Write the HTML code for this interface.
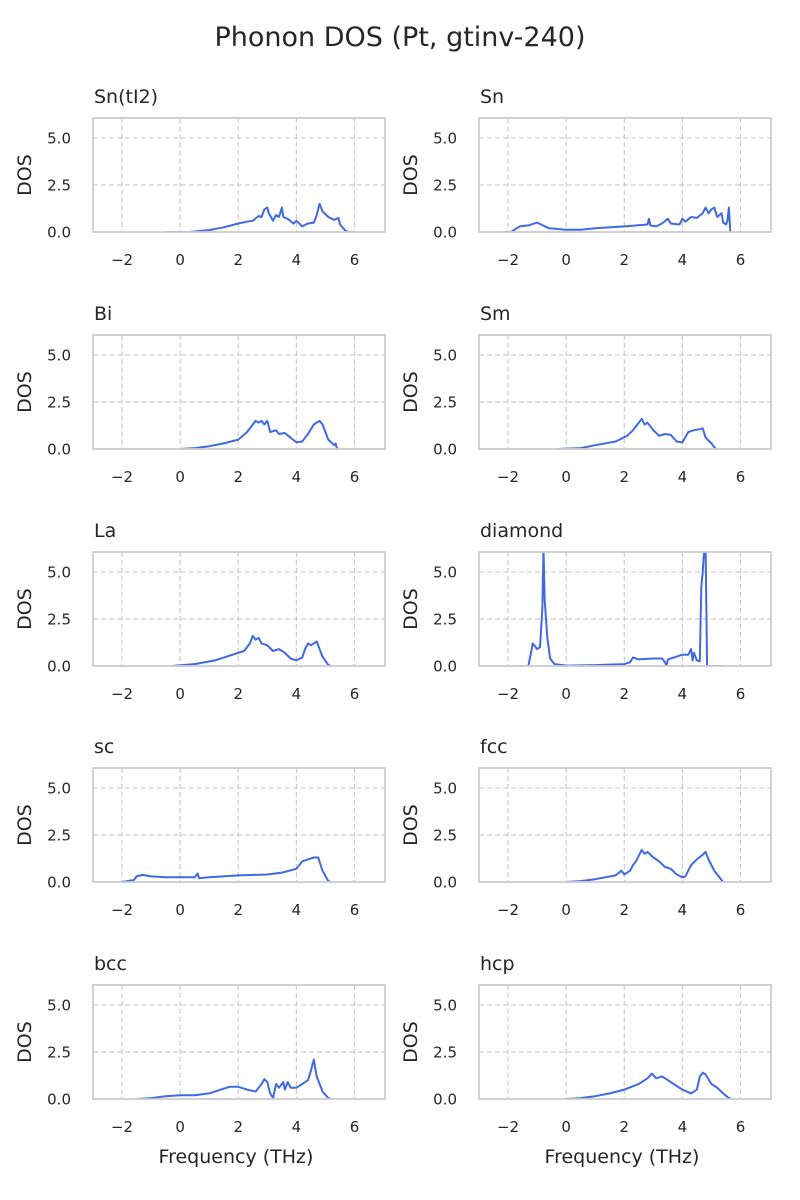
<!DOCTYPE html>
<html><head><meta charset="utf-8"><style>
body{margin:0;background:#fff;}
svg{display:block;font-family:"DejaVu Sans","Liberation Sans",sans-serif;}
</style></head><body>
<svg id="chart" width="800" height="1200">
<text x="400" y="46" text-anchor="middle" font-size="27" fill="#262626">Phonon DOS (Pt, gtinv-240)</text>
</svg>
<script>
const panelNames = ["Sn(tI2)","Sn","Bi","Sm","La","diamond","sc","fcc","bcc","hcp"];
const xTicks = [-2,0,2,4,6];
const xTickLabels = ["\u22122","0","2","4","6"];
const yTicks = [0,2.5,5];
const yTickLabels = ["0.0","2.5","5.0"];
const freqSnTI2 = [-0.5,0.3,1,1.5,2,2.3,2.5,2.7,2.8,2.9,3.0,3.05,3.2,3.3,3.4,3.5,3.55,3.7,3.9,4.0,4.2,4.4,4.6,4.7,4.8,4.9,5.1,5.3,5.45,5.5,5.7,5.8,6.0];
const dosSnTI2 = [0,0,0.1,0.25,0.45,0.55,0.6,0.85,0.8,1.2,1.3,1.0,0.6,0.9,0.8,1.3,0.8,0.7,0.45,0.6,0.3,0.45,0.5,0.9,1.5,1.1,0.8,0.65,0.75,0.4,0.05,0,0];
const freqSn = [-2.2,-1.9,-1.6,-1.3,-1.0,-0.8,-0.6,0,0.5,1,2,2.8,2.85,2.9,3.1,3.3,3.5,3.6,3.9,4.0,4.1,4.3,4.5,4.7,4.8,4.9,5.0,5.1,5.2,5.35,5.4,5.5,5.55,5.6,5.65];
const dosSn = [0,0,0.3,0.35,0.5,0.35,0.2,0.12,0.12,0.2,0.3,0.4,0.7,0.35,0.3,0.45,0.7,0.45,0.4,0.7,0.55,0.8,0.75,1.0,1.3,1.0,1.2,1.3,0.8,1.0,0.5,0.4,0.6,1.3,0];
const freqBi = [0,0.5,1,1.5,2,2.3,2.5,2.6,2.7,2.8,2.9,3.0,3.1,3.3,3.4,3.6,3.8,4.0,4.2,4.4,4.6,4.8,4.9,5.1,5.3,5.35,5.4];
const dosBi = [0,0.05,0.15,0.3,0.5,0.9,1.3,1.5,1.4,1.5,1.3,1.5,0.9,1.0,0.8,0.85,0.6,0.35,0.4,0.8,1.3,1.5,1.3,0.5,0.2,0.3,0];
const freqSm = [-0.3,0.5,1,1.7,2.1,2.3,2.5,2.6,2.7,2.8,3.0,3.2,3.4,3.6,3.8,4.0,4.2,4.4,4.6,4.7,4.8,5.0,5.15];
const dosSm = [0,0.05,0.2,0.4,0.7,1.0,1.4,1.6,1.3,1.4,1.0,0.7,0.8,0.75,0.4,0.35,0.9,1.0,1.05,1.1,0.6,0.3,0];
const freqLa = [-0.3,0.5,1.2,1.8,2.2,2.4,2.5,2.6,2.7,2.8,3.0,3.2,3.4,3.6,3.8,4.0,4.2,4.3,4.4,4.5,4.6,4.7,4.8,4.9,5.1,5.2];
const dosLa = [0,0.1,0.3,0.6,0.8,1.2,1.6,1.4,1.5,1.2,1.1,0.8,0.9,0.7,0.4,0.3,0.45,0.9,1.2,1.1,1.2,1.3,0.9,0.5,0.05,0];
const freqDiamond = [-1.8,-1.3,-1.15,-1.0,-0.9,-0.82,-0.78,-0.74,-0.65,-0.55,-0.4,0,1,2,2.2,2.3,2.5,3,3.3,3.4,3.45,3.5,4.0,4.2,4.3,4.35,4.4,4.5,4.6,4.65,4.7,4.75,4.8,4.85,5.4];
const dosDiamond = [0,0,1.2,0.9,1.0,3,6.2,3.5,1.5,0.4,0.1,0.02,0.05,0.1,0.2,0.45,0.35,0.4,0.4,0.2,0,0.35,0.6,0.6,0.9,0.3,0.7,0.3,0.25,4.2,5.0,6.2,6.2,0,0];
const freqSc = [-2,-1.6,-1.5,-1.3,-1.0,-0.5,0,0.5,0.6,0.65,1,2,3,3.5,4,4.2,4.4,4.6,4.75,4.9,5.1,5.2];
const dosSc = [0,0.1,0.3,0.38,0.3,0.25,0.25,0.25,0.45,0.2,0.25,0.35,0.4,0.5,0.7,1.1,1.2,1.3,1.3,0.6,0.05,0];
const freqFcc = [0,0.5,1,1.7,1.9,2.0,2.2,2.3,2.4,2.5,2.6,2.7,2.8,3.0,3.2,3.4,3.6,3.8,4.0,4.1,4.3,4.5,4.7,4.8,4.9,5.1,5.3,5.4];
const dosFcc = [0,0.05,0.15,0.35,0.6,0.4,0.6,0.9,1.1,1.4,1.7,1.5,1.6,1.3,1.1,0.8,0.7,0.4,0.25,0.3,0.9,1.2,1.45,1.6,1.2,0.6,0.2,0];
const freqBcc = [-1.5,-1,-0.5,0,0.5,1,1.5,1.7,2,2.3,2.6,2.8,2.9,3.0,3.1,3.2,3.3,3.4,3.55,3.6,3.7,3.8,4.0,4.2,4.4,4.5,4.6,4.7,4.9,5.1,5.2];
const dosBcc = [0,0.05,0.15,0.2,0.2,0.3,0.55,0.65,0.65,0.5,0.4,0.8,1.05,0.9,0.3,0.05,0.8,0.6,0.9,0.5,0.9,0.6,0.6,0.8,1.0,1.5,2.1,1.2,0.4,0.05,0];
const freqHcp = [0,0.5,1,1.5,2,2.5,2.8,2.95,3.1,3.3,3.5,3.7,4.0,4.3,4.5,4.6,4.7,4.8,5.0,5.2,5.4,5.6,5.7];
const dosHcp = [0,0.05,0.15,0.3,0.5,0.8,1.1,1.35,1.1,1.2,1.0,0.8,0.5,0.3,0.5,1.2,1.4,1.3,0.8,0.6,0.3,0.05,0];
const seriesFreq = [freqSnTI2,freqSn,freqBi,freqSm,freqLa,freqDiamond,freqSc,freqFcc,freqBcc,freqHcp];
const seriesDos = [dosSnTI2,dosSn,dosBi,dosSm,dosLa,dosDiamond,dosSc,dosFcc,dosBcc,dosHcp];

const NS="http://www.w3.org/2000/svg";
const svg=document.getElementById('chart');
const W=292,H=114,XMIN=-3,XMAX=7.05,YMAX=6.06;
const lefts=[93,479], tops=[118,335,552,768,985];
function mk(tag,attrs,parent){const e=document.createElementNS(NS,tag);for(const k in attrs)e.setAttribute(k,attrs[k]);(parent||svg).appendChild(e);return e;}
panelNames.forEach((name,i)=>{
  const L=lefts[i%2],T=tops[Math.floor(i/2)];
  const sx=v=>L+(v-XMIN)/(XMAX-XMIN)*W;
  const sy=v=>T+H-Math.min(v,YMAX+0.5)/YMAX*H;
  const g=mk('g',{});
  
  
  const clipId='clip'+i;
  const cp=mk('clipPath',{id:clipId},g);mk('rect',{x:L,y:T,width:W,height:H},cp);
  xTicks.forEach((t,j)=>{
    const gl=mk('line',{x1:sx(t),x2:sx(t),y1:T,y2:T+H,stroke:'#cccccc','stroke-width':1.2,'stroke-dasharray':'5,3'},g);
    
    
    const tl=mk('text',{x:sx(t),y:T+H+33,'text-anchor':'middle','font-size':15,fill:'#262626'},g);
    
    
    tl.textContent=xTickLabels[j];
  });
  yTicks.forEach((t,j)=>{
    if(t>0){const gl=mk('line',{x1:L,x2:L+W,y1:sy(t),y2:sy(t),stroke:'#cccccc','stroke-width':1.2,'stroke-dasharray':'5,3'},g);
    
    }
    const tl=mk('text',{x:L-22,y:sy(t)+5.5,'text-anchor':'end','font-size':15,fill:'#262626'},g);
    
    
    tl.textContent=yTickLabels[j];
  });
  const xs=seriesFreq[i],ys=seriesDos[i];
  const d=xs.map((x,k)=>(k?'L':'M')+sx(x).toFixed(1)+','+sy(ys[k]).toFixed(1)).join('');
  const p=mk('path',{d:d,fill:'none',stroke:'#4169e1','stroke-width':2,'stroke-linejoin':'round','clip-path':'url(#'+clipId+')'},g);
  
  
  const fr=mk('rect',{x:L,y:T,width:W,height:H,fill:'none',stroke:'#cccccc','stroke-width':1.8},g);
  
  
  const tt=mk('text',{x:L+1,y:T-15,'font-size':19,fill:'#262626'},g);
  
  
  tt.textContent=name;
  const yl=mk('text',{x:0,y:0,'font-size':19,fill:'#262626','text-anchor':'middle',transform:'translate('+(L-62)+','+(T+H/2)+') rotate(-90)'},g);
  
  
  yl.textContent='DOS';
  if(i>=8){
    const xl=mk('text',{x:L+W/2-3,y:T+H+64,'font-size':19,fill:'#262626','text-anchor':'middle'},g);
    
    
    xl.textContent='Frequency (THz)';
  }
});
</script>
</body></html>
